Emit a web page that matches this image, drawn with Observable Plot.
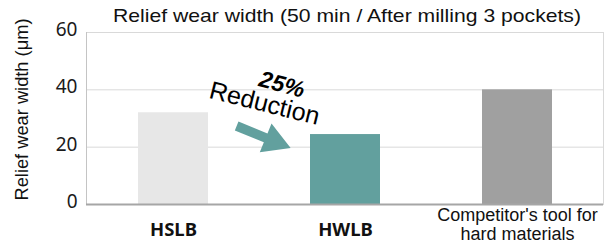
<!DOCTYPE html>
<html><head><meta charset="utf-8">
<script src="https://cdn.jsdelivr.net/npm/d3@7"></script>
<script src="https://cdn.jsdelivr.net/npm/@observablehq/plot@0.6"></script>
<style>body{margin:0;background:#fff} svg{display:block;background:#fff}</style>
</head><body><div id="chart"></div>
<script>
// ---- data ----
const categories = ["HSLB", "HWLB", "Competitor's tool for hard materials"];
const values = [32, 24.4, 40];
const xLabels = ["HSLB", "HWLB", "Competitor's tool for\nhard materials"];
const yTicks = [0, 20, 40, 60];
const title = "Relief wear width (50 min / After milling 3 pockets)";
const yLabel = "Relief wear width (μm)";
const annoPercent = "25%";
const annoWord = "Reduction";
const annoPercentY = 41.8;
const annoWordY = 35.2;
const arrowFromY = 27.2;
const arrowToY = 19.5;

const data = categories.map((c, i) => ({category: c, value: values[i], label: xLabels[i]}));

const chart = Plot.plot({
  width: 614,
  height: 243,
  marginLeft: 86,
  marginRight: 11,
  marginTop: 32,
  marginBottom: 39,
  style: {background: "#fff"},
  x: {domain: categories, padding: 0, axis: null},
  y: {domain: [0, 60], axis: null},
  color: {domain: categories, range: ["#e7e7e7", "#62a09e", "#a0a0a0"]},
  marks: [
    Plot.gridY(yTicks.filter(d => d > 0 && d < 60), {stroke: "#d9d9d9", strokeOpacity: 1}),
    Plot.frame({stroke: "#d9d9d9"}),
    Plot.frame({anchor: "left", stroke: "#c4c4c4"}),
    Plot.barY(data, {x: "category", y: "value", fill: "category", insetLeft: 51, insetRight: 51}),
    Plot.ruleY([0], {stroke: "#a6a6a6", strokeWidth: 2}),
    Plot.axisY({ticks: yTicks, tickSize: 0, tickPadding: 9, fontSize: 19, fontFamily: "Noto Sans", dy: -2.5, label: null, tickFormat: d => d, color: "#1a1a1a"}),
    Plot.text([title], {frameAnchor: "top", dx: 2, dy: -11, lineAnchor: "bottom", fontSize: 19, fontFamily: "Liberation Sans", fill: "#111"}),
    Plot.text([yLabel], {frameAnchor: "left", textAnchor: "middle", lineAnchor: "middle", rotate: -90, dx: -64, dy: -9, fontSize: 17.5, fontFamily: "Liberation Sans", fill: "#111"}),
    Plot.text(data.slice(0, 2), {x: "category", text: "label", frameAnchor: "bottom", lineAnchor: "middle", dy: 26, fontSize: 18.5, fontWeight: "bold", fontFamily: "Noto Sans", fill: "#111"}),
    Plot.text(data.slice(2), {x: "category", text: "label", frameAnchor: "bottom", lineAnchor: "middle", dy: 20, fontSize: 18, lineHeight: 1.06, fontFamily: "Liberation Sans", fill: "#111"}),
    Plot.text([annoPercent], {x: () => categories[1], y: () => annoPercentY, text: d => d, rotate: 15, dx: -63.5, fontSize: 23, fontWeight: "bold", fontStyle: "italic", fontFamily: "Liberation Sans", fill: "#000"}),
    Plot.text([annoWord], {x: () => categories[1], y: () => annoWordY, text: d => d, rotate: 14, dx: -81, fontSize: 25, fontFamily: "Liberation Sans", fill: "#000"})
  ]
});

// block arrow drawn through the chart's own scales
(function addArrow() {
  const xs = chart.scale("x"), ys = chart.scale("y");
  const bw = xs.bandwidth;
  const c0 = xs.apply(categories[0]) + bw / 2;
  const c1 = xs.apply(categories[1]) + bw / 2;
  const tx = c0 + 0.37 * (c1 - c0), ty = ys.apply(arrowFromY);
  const hx = c0 + 0.684 * (c1 - c0), hy = ys.apply(arrowToY);
  const L = Math.hypot(hx - tx, hy - ty);
  const ux = (hx - tx) / L, uy = (hy - ty) / L;
  const nx = -uy, ny = ux;
  const sw = 4.8, hw = 15.5, hl = 27;
  const bx = hx - ux * hl, by = hy - uy * hl;
  const pts = [
    [tx + nx * sw, ty + ny * sw], [bx + nx * sw, by + ny * sw], [bx + nx * hw, by + ny * hw],
    [hx, hy], [bx - nx * hw, by - ny * hw], [bx - nx * sw, by - ny * sw], [tx - nx * sw, ty - ny * sw]
  ];
  d3.select(chart).append("path")
    .attr("d", "M" + pts.map(p => p.map(v => v.toFixed(2)).join(",")).join("L") + "Z")
    .attr("fill", "#62a09e");
})();

chart.querySelectorAll("text").forEach(t => {
  if (t.textContent === title) { t.setAttribute("textLength", 468); t.setAttribute("lengthAdjust", "spacingAndGlyphs"); }
  if (t.textContent === yLabel) { t.setAttribute("textLength", 182); t.setAttribute("lengthAdjust", "spacingAndGlyphs"); }
});
document.getElementById("chart").appendChild(chart);
</script>
</body></html>
